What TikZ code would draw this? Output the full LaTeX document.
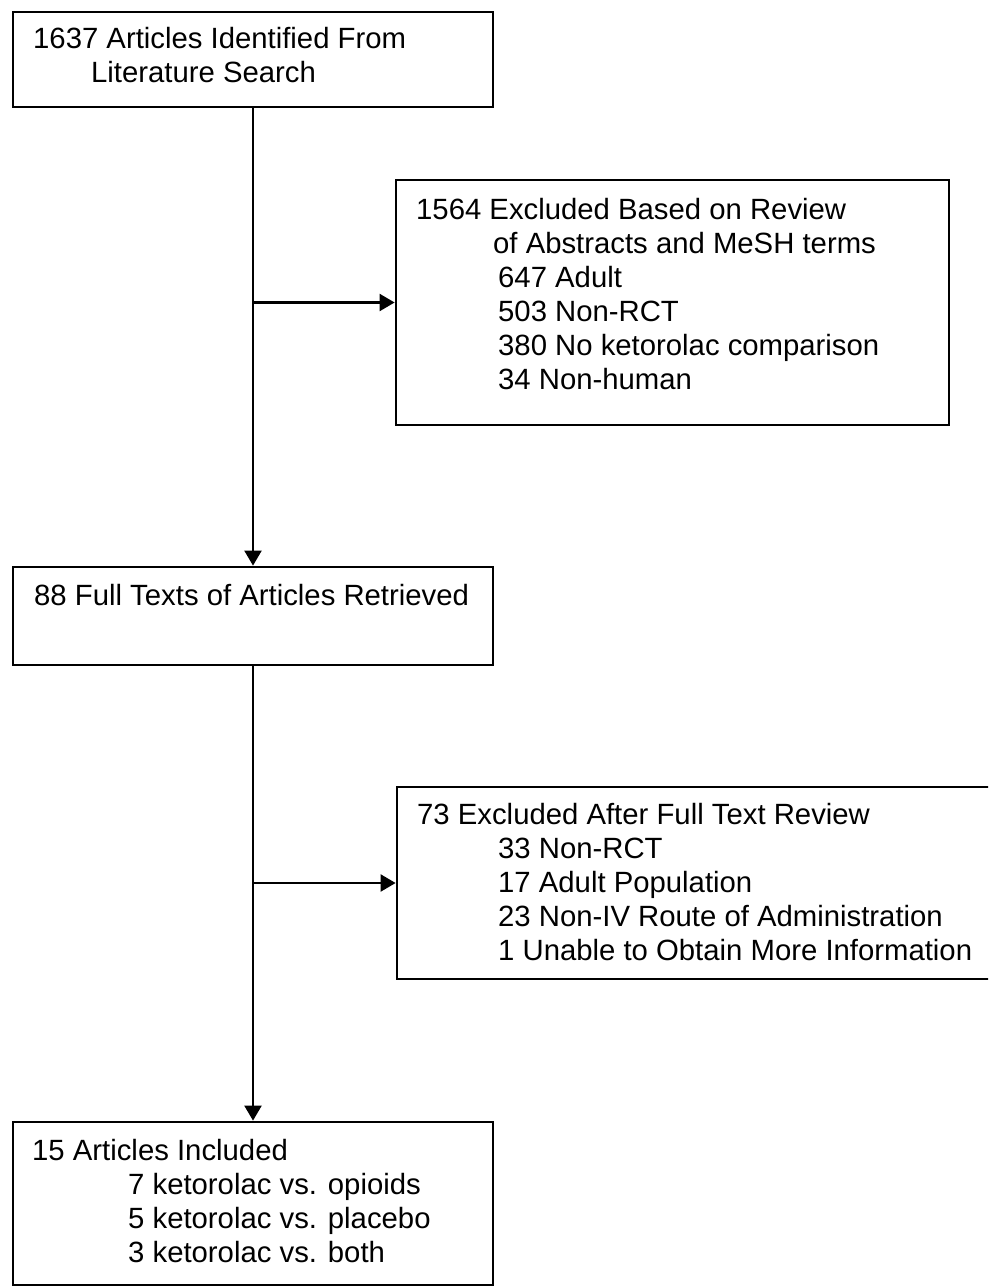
\documentclass[tikz,border=0pt]{standalone}
\usepackage{fontspec}
\setmainfont{Liberation Sans}
\usetikzlibrary{arrows.meta}
\begin{document}
\begin{tikzpicture}[x=1pt,y=-1pt,
  box/.style={draw=black, line width=2.8pt, rectangle, inner sep=0pt},
  ln/.style={anchor=base west, inner sep=0pt, font=\fontsize{29.3}{34}\selectfont, text=black},
  conn/.style={draw=black, line width=2.2pt, -{Triangle[length=15pt,width=17pt]}}]
\useasboundingbox (0,0) rectangle (988,1287);
\fill[white] (0,0) rectangle (988,1287);
\clip (0,0) rectangle (988,1287);
% boxes
\node[box, minimum width=480pt, minimum height=95pt]  (b1) at (253,59.5) {};
\node[box, minimum width=553pt, minimum height=245pt] (b2) at (672.5,302.5) {};
\node[box, minimum width=480pt, minimum height=98pt]  (b3) at (253,616) {};
\node[box, minimum width=603pt, minimum height=192pt] (b4) at (698.5,883) {};
\node[box, minimum width=480pt, minimum height=163pt] (b5) at (253,1203.5) {};
% texts
\node[ln] (t1a) at (33,49) {1637 Articles Identified From};
\node[ln] (t1b) at (91,83) {Literature Search};
\node[ln] (t2a) at (416,219) {1564 Excluded Based on Review};
\node[ln] (t2b) at (493,253) {of Abstracts and MeSH terms};
\node[ln] (t2c) at (498,287) {647 Adult};
\node[ln] (t2d) at (498,321) {503 Non-RCT};
\node[ln] (t2e) at (498,355) {380 No ketorolac comparison};
\node[ln] (t2f) at (498,389) {34 Non-human};
\node[ln] (t3a) at (34,605) {88 Full Texts of Articles Retrieved};
\node[ln] (t4a) at (417,824) {73 Excluded After Full Text Review};
\node[ln] (t4b) at (498,858) {33 Non-RCT};
\node[ln] (t4c) at (498,892) {17 Adult Population};
\node[ln] (t4d) at (498,926) {23 Non-IV Route of Administration};
\node[ln] (t4e) at (498,960) {1 Unable to Obtain More Information};
\node[ln] (t5a) at (32,1160) {15 Articles Included};
\node[ln] (t5b) at (128,1194) {7 ketorolac vs. opioids};
\node[ln] (t5c) at (128,1228) {5 ketorolac vs. placebo};
\node[ln] (t5d) at (128,1262) {3 ketorolac vs. both};
% connectors
\draw[conn] (b1.south) -- (b3.north);
\draw[conn] (b3.south) -- (b5.north);
\coordinate (j1) at (b1.south |- b2.west);
\coordinate (j2) at (b3.south |- b4.west);
\draw[conn] (j1) -- (b2.west);
\draw[conn] (j2) -- (b4.west);
\end{tikzpicture}
\end{document}
